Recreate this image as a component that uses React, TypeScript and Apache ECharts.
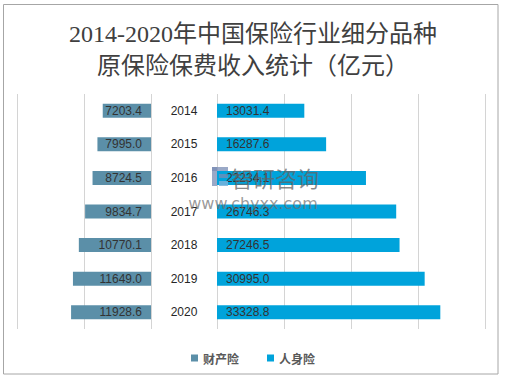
import React, { useEffect, useRef } from "react";
import * as echarts from "echarts";

const years = ["2014", "2015", "2016", "2017", "2018", "2019", "2020"];
const propertyIns = [7203.4, 7995.0, 8724.5, 9834.7, 10770.1, 11649.0, 11928.6];
const lifeIns = [13031.4, 16287.6, 22234.1, 26746.3, 27246.5, 30995.0, 33328.8];
const seriesNames = ["财产险", "人身险"];
const titleText = "2014-2020年中国保险行业细分品种\n原保险保费收入统计（亿元）";

export default function App() {
  const ref = useRef<HTMLDivElement>(null);
  useEffect(() => {
    if (!ref.current) return;
    const chart = echarts.init(ref.current, null, { renderer: "svg" });
    const gridTop = 94;
    const gridHeight = 235;
    const splitStyle = { show: true, lineStyle: { color: "#d4d4d4", width: 1 } };
    const wmBlue = "rgba(120,140,180,0.75)";
    chart.setOption({
      animation: false,
      backgroundColor: "#ffffff",
      title: {
        text: titleText,
        left: "center",
        top: 13,
        textStyle: {
          fontSize: 24,
          fontWeight: "normal",
          color: "#404040",
          lineHeight: 32,
          fontFamily: "'Liberation Serif', 'Noto Sans CJK SC', serif",
        },
      },
      legend: {
        data: seriesNames,
        top: 347,
        left: "center",
        icon: "rect",
        itemWidth: 7,
        itemHeight: 7,
        itemGap: 28,
        textStyle: { fontSize: 12, color: "#595959", fontWeight: "bold", fontFamily: "'Noto Sans CJK SC', sans-serif" },
      },
      grid: [
        { left: 17, width: 134, top: gridTop, height: gridHeight },
        { left: 217, width: 268, top: gridTop, height: gridHeight },
      ],
      xAxis: [
        {
          gridIndex: 0,
          type: "value",
          inverse: true,
          min: 0,
          max: 20000,
          interval: 10000,
          axisLabel: { show: false },
          axisLine: { show: false },
          axisTick: { show: false },
          splitLine: splitStyle,
        },
        {
          gridIndex: 1,
          type: "value",
          min: 0,
          max: 40000,
          interval: 10000,
          axisLabel: { show: false },
          axisLine: { show: false },
          axisTick: { show: false },
          splitLine: splitStyle,
        },
      ],
      yAxis: [
        {
          gridIndex: 0,
          type: "category",
          data: years,
          inverse: true,
          position: "right",
          axisLine: { show: false },
          axisTick: { show: false },
          axisLabel: {
            margin: 33,
            align: "center",
            fontSize: 12,
            color: "#262626",
            fontFamily: "'Liberation Sans', 'Noto Sans', sans-serif",
          },
        },
        {
          gridIndex: 1,
          type: "category",
          data: years,
          inverse: true,
          axisLine: { show: false },
          axisTick: { show: false },
          axisLabel: { show: false },
        },
      ],
      series: [
        {
          name: seriesNames[0],
          type: "bar",
          xAxisIndex: 0,
          yAxisIndex: 0,
          data: propertyIns,
          barWidth: 14,
          itemStyle: { color: "#5b8fa8" },
          label: {
            show: true,
            position: "insideRight",
            distance: 9,
            formatter: (p: any) => p.value.toFixed(1),
            fontSize: 12,
            color: "#333333",
            fontFamily: "'Liberation Sans', 'Noto Sans', sans-serif",
          },
        },
        {
          name: seriesNames[1],
          type: "bar",
          xAxisIndex: 1,
          yAxisIndex: 1,
          data: lifeIns,
          barWidth: 14,
          itemStyle: { color: "#00a3db" },
          label: {
            show: true,
            position: "insideLeft",
            distance: 9,
            formatter: (p: any) => p.value.toFixed(1),
            fontSize: 12,
            color: "#333333",
            fontFamily: "'Liberation Sans', 'Noto Sans', sans-serif",
          },
        },
      ],
      graphic: [
        {
          type: "rect",
          shape: { x: 3.5, y: 4.5, width: 494.5, height: 369.5 },
          style: { fill: "none", stroke: "#a6a6a6", lineWidth: 1 },
          silent: true,
        },
        { type: "rect", z: 100, silent: true, shape: { x: 212, y: 167, width: 5, height: 19 }, style: { fill: wmBlue } },
        { type: "rect", z: 100, silent: true, shape: { x: 212, y: 167, width: 16, height: 4 }, style: { fill: wmBlue } },
        { type: "rect", z: 100, silent: true, shape: { x: 219, y: 174, width: 9, height: 4 }, style: { fill: wmBlue } },
        { type: "rect", z: 100, silent: true, shape: { x: 219, y: 181, width: 9, height: 5 }, style: { fill: "rgba(120,180,220,0.85)" } },
        {
          type: "text",
          z: 100,
          silent: true,
          x: 231,
          y: 177,
          style: {
            text: "智研咨询",
            fontSize: 22,
            fill: "rgba(100,100,100,0.75)",
            textVerticalAlign: "middle",
            fontFamily: "'Noto Sans CJK SC', sans-serif",
          },
        },
        {
          type: "text",
          z: 100,
          silent: true,
          x: 253,
          y: 203,
          style: {
            text: "www.chyxx.com",
            fontSize: 16,
            fill: "rgba(110,110,110,0.7)",
            textAlign: "center",
            textVerticalAlign: "middle",
            fontFamily: "'DejaVu Sans', sans-serif",
          },
        },
      ],
    });
    return () => chart.dispose();
  }, []);
  return (
    <div
      ref={ref}
      style={{ position: "fixed", left: 0, top: 0, width: 506, height: 380 }}
    />
  );
}
